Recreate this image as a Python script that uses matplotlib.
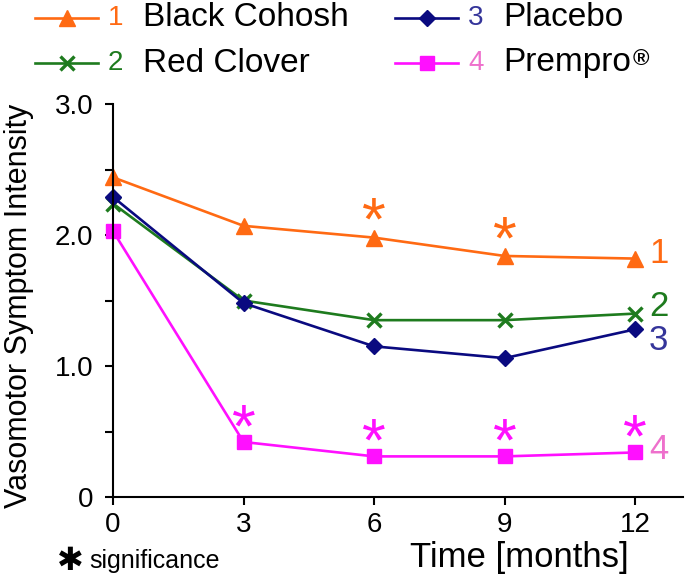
import matplotlib
matplotlib.use("Agg")
import matplotlib.pyplot as plt
from matplotlib.lines import Line2D

plt.rcParams['font.family'] = ['Liberation Sans', 'DejaVu Sans']

months = [0, 3, 6, 9, 12]
black_cohosh = [2.44, 2.07, 1.98, 1.84, 1.82]
red_clover = [2.24, 1.50, 1.35, 1.35, 1.40]
placebo = [2.29, 1.48, 1.15, 1.06, 1.28]
prempro = [2.03, 0.42, 0.31, 0.31, 0.34]

names = ["Black Cohosh", "Red Clover", "Placebo", "Prempro"]
nums = ["1", "2", "3", "4"]
sig_bc = [6, 9]
sig_pr = [3, 6, 9, 12]

yticks = [0, 0.5, 1.0, 1.5, 2.0, 2.5, 3.0]
ylabels = ["0", "", "1.0", "", "2.0", "", "3.0"]

c_or = "#FF6A13"
c_gr = "#1E7B1E"
c_nv = "#0A0A80"
c_mg = "#FF10FF"
num_cols = [c_or, c_gr, "#35359A", "#EE70CC"]

W, H = 685, 583
fig = plt.figure(figsize=(W / 100, H / 100), dpi=100)
ax = fig.add_axes([113 / W, 1 - 497 / H, (683 - 113) / W, (497 - 104) / H])

series = [
    (black_cohosh, c_or, "^", 11, 0),
    (red_clover, c_gr, "x", 10, 2.4),
    (placebo, c_nv, "D", 8, 0),
    (prempro, c_mg, "s", 10.5, 0),
]
for vals, col, mk, ms, mew in series:
    kw = dict(color=col, marker=mk, markersize=ms, lw=1.9, clip_on=False)
    if mk == "x":
        kw["markeredgewidth"] = mew
    ax.plot(months, vals, **kw)

# significance asterisks
for m in sig_bc:
    ax.annotate("*", (m, black_cohosh[months.index(m)]), xytext=(0, -1.5),
                textcoords="offset points", ha="center", va="baseline",
                fontsize=44, color=c_or)
for m in sig_pr:
    ax.annotate("*", (m, prempro[months.index(m)]), xytext=(0, -3),
                textcoords="offset points", ha="center", va="baseline",
                fontsize=44, color=c_mg)

# right-end number labels
ends = [black_cohosh[-1], red_clover[-1], placebo[-1], prempro[-1]]
offs = [4, 5, -8, 2]
for e, n, c, o in zip(ends, nums, num_cols, offs):
    ax.annotate(n, (12, e), xytext=(10, o), textcoords="offset points",
                ha="left", va="center", fontsize=25, color=c)

ax.set_xlim(0, 13.1)
ax.set_ylim(0, 3.0)
ax.set_xticks(months)
ax.set_xticklabels([str(m) for m in months])
ax.set_yticks(yticks)
ax.set_yticklabels(ylabels)
ax.tick_params(axis="both", labelsize=20, width=1.5, length=6, direction="out")
ax.tick_params(axis="x", pad=5)
ax.tick_params(axis="y", pad=8)
for s in ["top", "right"]:
    ax.spines[s].set_visible(False)
for s in ["left", "bottom"]:
    ax.spines[s].set_linewidth(1.5)

fig.text(19 / W, 1 - 306 / H, "Vasomotor Symptom Intensity", rotation=90,
         fontsize=22, ha="center", va="center")
fig.text(629 / W, 1 - 567 / H, "Time [months]", fontsize=25, ha="right", va="baseline")
fig.text(70 / W, 1 - 561 / H, "\u2731", fontsize=23, ha="center", va="center",
         family="DejaVu Sans", color="black")
fig.text(89 / W, 1 - 568 / H, "significance", fontsize=18, ha="left", va="baseline")

# legend (manual)
leg = [
    (35, 98, 18, c_or, "^", 11, 0),
    (35, 98, 63, c_gr, "x", 10, 2.4),
    (395, 458, 18, c_nv, "D", 8, 0),
    (395, 458, 63, c_mg, "s", 10.5, 0),
]
for (x0, x1, y, col, mk, ms, mew), n, nc, name in zip(leg, nums, num_cols, names):
    fy = 1 - y / H
    fig.add_artist(Line2D([x0 / W, x1 / W], [fy, fy], color=col, lw=1.9,
                          transform=fig.transFigure))
    kw = dict(color=col, marker=mk, markersize=ms, transform=fig.transFigure, ls="none")
    if mk == "x":
        kw["markeredgewidth"] = mew
    fig.add_artist(Line2D([(x0 + x1) / 2 / W], [fy], **kw))
    fig.text((x1 + 10) / W, fy, n, fontsize=20, color=nc, ha="left", va="center")
    t = fig.text((x1 + 45) / W, fy, name, fontsize=24, color="black", ha="left", va="center")
    if name == "Prempro":
        ax.annotate("®", xy=(1.0, 0.95), xycoords=t, xytext=(1, 0),
                    textcoords="offset points", ha="left", va="top",
                    fontsize=16, fontweight="bold", annotation_clip=False)

fig.savefig("out.png", dpi=100)
